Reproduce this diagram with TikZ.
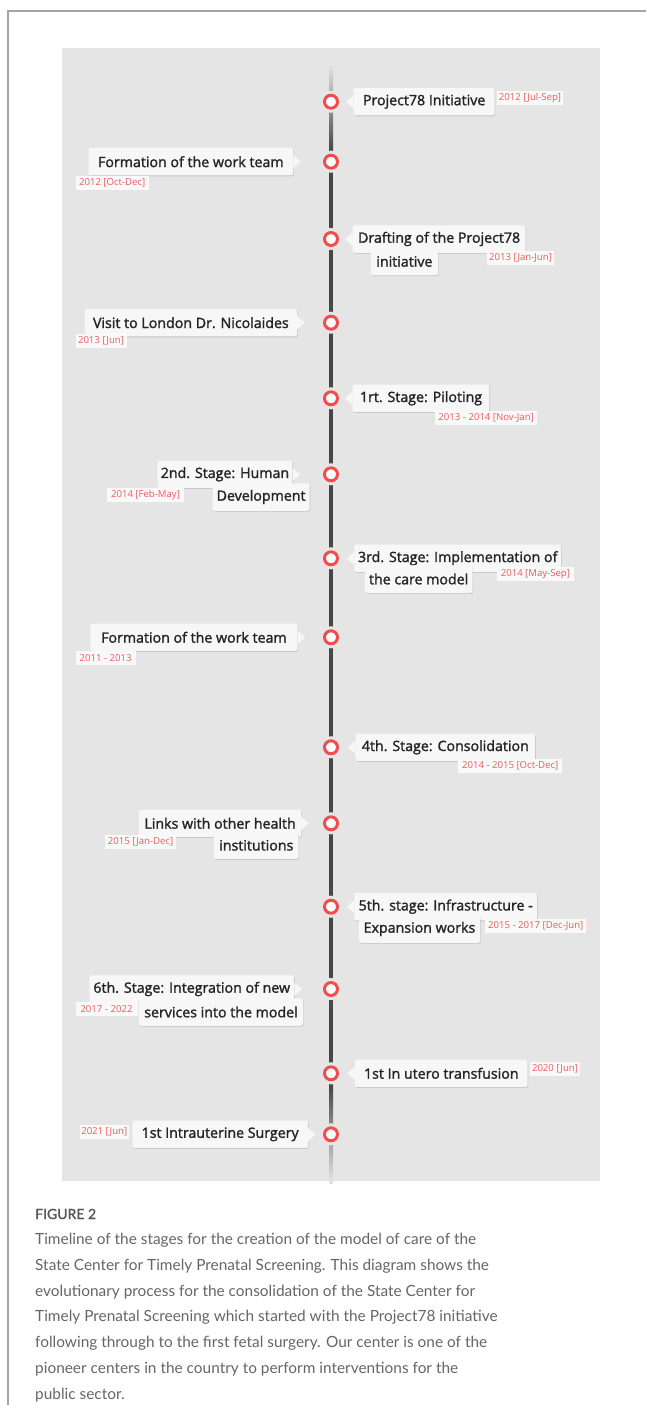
\documentclass[tikz,border=0pt]{standalone}
\usepackage{fontspec}
\setmainfont{Open Sans}
\newfontfamily\evfont[FakeBold=1.6]{Open Sans}
\newfontfamily\datefont{Open Sans}
\newfontfamily\capfont{Lato}
\newfontfamily\figfont[FakeBold=1.2]{Lato}
\usetikzlibrary{shadows}
\definecolor{panel}{HTML}{E5E5E5}
\definecolor{tl}{HTML}{474747}
\definecolor{ring}{HTML}{F04E4E}
\definecolor{boxfill}{HTML}{F7F7F7}
\definecolor{evtext}{HTML}{242424}
\definecolor{datecol}{HTML}{EE5A5A}
\definecolor{datebg}{HTML}{F9F9F9}
\definecolor{captext}{HTML}{666666}
\definecolor{figcol}{HTML}{555555}
\definecolor{framecol}{HTML}{A5A5A5}
\tikzset{
  evbox/.style={fill=boxfill, rounded corners=2pt, inner sep=0pt, minimum height=27.5pt,
    text=evtext, font=\evfont\fontsize{14.2}{16}\selectfont,
    drop shadow={shadow xshift=0.6pt, shadow yshift=-0.8pt, opacity=0.15, fill=black}},
  datebox/.style={fill=datebg, inner sep=0pt, minimum height=14pt, text=datecol,
    font=\datefont\fontsize{9.6}{10}\selectfont},
  dot/.style={circle, draw=ring, line width=3pt, fill=white, minimum size=13pt, inner sep=0pt,
    preaction={draw=panel, line width=9pt}},
  ptr/.style={fill=boxfill},
}
% box: name, x1, x2, y-centre, text
\newcommand\evb[5]{\node[evbox, minimum width={#3-#2}] (#1) at ({(#2+#3)/2},#4) {#5};}
\newcommand\dtb[5]{\node[datebox, minimum width={#3-#2}] (#1) at ({(#2+#3)/2},#4) {#5};}
\newcommand\ptrR[1]{\fill[ptr] (#1.west) ++(0,-6.5) -- ++(-7.5,6.5) -- ++(7.5,6.5) -- cycle;}
\newcommand\ptrL[1]{\fill[ptr] (#1.east) ++(0,-6.5) -- ++(7.5,6.5) -- ++(-7.5,6.5) -- cycle;}
\begin{document}
\begin{tikzpicture}[x=1pt,y=-1pt]
\useasboundingbox[fill=white] (0,0) rectangle (646,1414);
\draw[framecol, line width=1.2pt] (646,11) -- (8,11) -- (8,1405);
\fill[panel] (62,48) rectangle (600,1181);
% timeline
\coordinate (tltop) at (331,64);
\coordinate (tlbot) at (331,1183);
\shade[top color=panel, bottom color=tl] ([xshift=-2pt]tltop) rectangle (333,150);
\fill[tl] (329,150) rectangle (333,1085);
\shade[top color=tl, bottom color=panel] (329,1085) rectangle ([xshift=2pt]tlbot);
% dots
\node[dot] (c1) at (331,101.7) {};
\node[dot] (c2) at (331,161.7) {};
\node[dot] (c3) at (331,239) {};
\node[dot] (c4) at (331,322.7) {};
\node[dot] (c5) at (331,398.3) {};
\node[dot] (c6) at (331,474.3) {};
\node[dot] (c7) at (331,558.3) {};
\node[dot] (c8) at (331,637.3) {};
\node[dot] (c9) at (331,747.3) {};
\node[dot] (c10) at (331,823.3) {};
\node[dot] (c11) at (331,906.7) {};
\node[dot] (c12) at (331,989) {};
\node[dot] (c13) at (331,1073.3) {};
\node[dot] (c14) at (331,1134.3) {};
% events
\evb{b1}{353.7}{494.6}{101.7}{Project78 Initiative}\ptrR{b1}
\evb{b2}{88.6}{293.1}{161.7}{Formation of the work team}\ptrL{b2}
\evb{b3}{352.7}{525.6}{239}{Drafting of the Project78}\ptrR{b3}
\evb{b3b}{371}{437.8}{261.5}{initiative}
\evb{b4}{84.8}{297}{322.7}{Visit to London Dr. Nicolaides}\ptrL{b4}
\evb{b5}{352.7}{489.4}{398.3}{1rt. Stage: Piloting}\ptrR{b5}
\evb{b6}{157.5}{292.4}{474.3}{2nd. Stage: Human}\ptrL{b6}
\evb{b6b}{212.5}{309.7}{497}{Development}
\evb{b7}{354.4}{561}{558.3}{3rd. Stage: Implementation of}\ptrR{b7}
\evb{b7b}{364.8}{472.5}{579}{the care model}
\evb{b8}{90.3}{297.6}{637.3}{Formation of the work team}\ptrL{b8}
\evb{b9}{355.5}{535.2}{747.3}{4th. Stage: Consolidation}\ptrR{b9}
\evb{b10}{139.2}{301}{823.3}{Links with other health}\ptrL{b10}
\evb{b10b}{214}{298.6}{845.3}{institutions}
\evb{b11}{354.4}{537}{906.7}{5th. stage: Infrastructure -}\ptrR{b11}
\evb{b11b}{359}{480}{929}{Expansion works}
\evb{b12}{89.3}{294.2}{989}{6th. Stage: Integration of new}\ptrL{b12}
\evb{b12b}{139.2}{302.8}{1012}{services into the model}
\evb{b13}{355}{527.6}{1073.3}{1st In utero transfusion}\ptrR{b13}
\evb{b14}{132.3}{308}{1134.3}{1st Intrauterine Surgery}\ptrL{b14}
% dates
\dtb{d1}{497.3}{562.8}{98.3}{2012 [Jul-Sep]}
\dtb{d2}{75.5}{148.8}{182.7}{2012 [Oct-Dec]}
\dtb{d3}{487}{554}{257.5}{2013 [Jan-Jun]}
\dtb{d4}{75.5}{126.5}{340.8}{2013 [Jun]}
\dtb{d5}{435.3}{537}{418}{2013 - 2014 [Nov-Jan]}
\dtb{d6}{107}{184}{495}{2014 [Feb-May]}
\dtb{d7}{497}{573.8}{573.8}{2014 [May-Sep]}
\dtb{d8}{75.5}{135.8}{658}{2011 - 2013}
\dtb{d9}{458.4}{562}{766}{2014 - 2015 [Oct-Dec]}
\dtb{d10}{104.8}{176.4}{842}{2015 [Jan-Dec]}
\dtb{d11}{485.3}{586.2}{925.5}{2015 - 2017 [Dec-Jun]}
\dtb{d12}{75.5}{137.5}{1009}{2017 - 2022}
\dtb{d13}{530}{580}{1069}{2020 [Jun]}
\dtb{d14}{79.6}{128.9}{1131.7}{2021 [Jun]}
% caption
\node[anchor=base west, inner sep=0pt, text=figcol, font=\figfont\fontsize{14}{15}\selectfont] (fig) at (35,1219) {FIGURE 2};
\node[anchor=base west, inner sep=0pt, align=left, text=captext, font=\capfont\fontsize{15.4}{25.7}\selectfont] (cap) at (35,1399) {Timeline of the stages for the creation of the model of care of the\\
State Center for Timely Prenatal Screening. This diagram shows the\\
evolutionary process for the consolidation of the State Center for\\
Timely Prenatal Screening which started with the Project78 initiative\\
following through to the first fetal surgery. Our center is one of the\\
pioneer centers in the country to perform interventions for the\\
public sector.};
\end{tikzpicture}
\end{document}
